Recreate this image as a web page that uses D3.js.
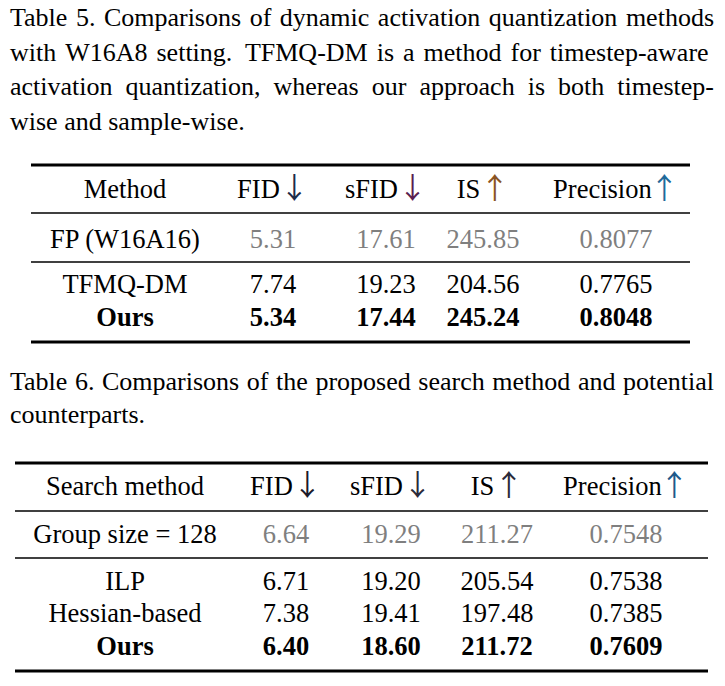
<!DOCTYPE html>
<html>
<head>
<meta charset="utf-8">
<script src="https://cdn.jsdelivr.net/npm/d3@7/dist/d3.min.js"></script>
<style>
    body { margin: 0; background: #fff; }
    svg text { font-family: 'Liberation Serif', 'Times New Roman', serif; fill: #000; }
</style>
</head>
<body>
<div id="chart"></div>
<script>
// --- captions
const caption5 = [
    'Table 5. Comparisons of dynamic activation quantization methods',
    'with W16A8 setting.  TFMQ-DM is a method for timestep-aware',
    'activation quantization, whereas our approach is both timestep-',
    'wise and sample-wise.',
];
const caption6 = [
    'Table 6. Comparisons of the proposed search method and potential',
    'counterparts.',
];

// --- table 5
const table5Headers = ['Method', 'FID', 'sFID', 'IS', 'Precision'];
const table5Arrows = ['', '↓', '↓', '↑', '↑'];
const table5Methods = ['FP (W16A16)', 'TFMQ-DM', 'Ours'];
const table5FID = [5.31, 7.74, 5.34];
const table5SFID = [17.61, 19.23, 17.44];
const table5IS = [245.85, 204.56, 245.24];
const table5Precision = [0.8077, 0.7765, 0.8048];

// --- table 6
const table6Headers = ['Search method', 'FID', 'sFID', 'IS', 'Precision'];
const table6Arrows = ['', '↓', '↓', '↑', '↑'];
const table6Methods = ['Group size = 128', 'ILP', 'Hessian-based', 'Ours'];
const table6FID = [6.64, 6.71, 7.38, 6.40];
const table6SFID = [19.29, 19.20, 19.41, 18.60];
const table6IS = [211.27, 205.54, 197.48, 211.72];
const table6Precision = [0.7548, 0.7538, 0.7385, 0.7609];

const WIDTH = 725, HEIGHT = 686;
const CAPTION_FONT = 26;
const FONT = 26.5;
const f2 = d3.format('.2f'), f4 = d3.format('.4f');
const formats = [d => d, f2, f2, f2, f4];

const svg = d3.select('#chart').append('svg')
    .attr('width', WIDTH)
    .attr('height', HEIGHT);

function drawCaption(lines, top, lineHeight) {
    const left = 10, right = 714;
    const g = svg.append('g').attr('class', 'caption');
    lines.forEach((line, i) => {
        const y = top + i * lineHeight;
        // a double space stays as a wider gap
        const words = line.split(' ');
        const nodes = words.map(w => g.append('text')
            .attr('y', y)
            .attr('font-size', CAPTION_FONT)
            .text(w));
        const widths = nodes.map(n => n.node().getComputedTextLength());
        const total = d3.sum(widths);
        const last = i === lines.length - 1;
        const gap = last ? CAPTION_FONT * 0.25 : (right - left - total) / (words.length - 1);
        let x = left;
        nodes.forEach((n, j) => {
            n.attr('x', x);
            x += widths[j] + (widths[j] === 0 ? gap * 0.4 : gap);
        });
    });
}

function drawTable(opt) {
    const g = svg.append('g').attr('class', 'table');
    const x = d3.scaleOrdinal().domain(d3.range(5)).range(opt.columns);
    const rows = opt.methods.map((m, i) => [m, opt.fid[i], opt.sfid[i], opt.is[i], opt.precision[i]]);

    // rules
    opt.rules.forEach((r, i) => {
        const thick = i === 0 || i === opt.rules.length - 1;
        g.append('line')
            .attr('x1', opt.x0).attr('x2', opt.x1)
            .attr('y1', r).attr('y2', r)
            .attr('stroke', '#000')
            .attr('stroke-width', thick ? 3 : 1.4);
    });

    // header: label + thin tall arrow (CJK arrows are slim and span the full em)
    const head = g.selectAll('.head').data(opt.headers).join('text')
        .attr('class', 'head')
        .attr('x', (_, i) => x(i))
        .attr('y', opt.headerY)
        .attr('text-anchor', 'middle')
        .attr('font-size', FONT);
    head.append('tspan').text(d => d);
    head.append('tspan')
        .attr('font-family', 'Noto Sans CJK JP')
        .attr('font-size', FONT * 1.1)
        .attr('dx', (_, i) => opt.arrowGap[i] ? 0 : -2)
        .attr('dy', 1)
        .style('fill', (_, i) => opt.arrowColors[i])
        .text((_, i) => opt.arrows[i]);

    // body rows
    rows.forEach((row, ri) => {
        const isRef = ri === 0, isOurs = ri === rows.length - 1;
        g.selectAll(null).data(row).join('text')
            .attr('x', (_, ci) => x(ci))
            .attr('y', opt.rowY[ri])
            .attr('text-anchor', 'middle')
            .attr('font-size', FONT)
            .attr('font-weight', isOurs ? 'bold' : 'normal')
            .style('fill', (_, ci) => (isRef && ci > 0) ? '#7f7f7f' : '#000')
            .text((d, ci) => formats[ci](d));
    });
}

drawCaption(caption5, 26, 34.5);
drawTable({
    headers: table5Headers,
    arrows: table5Arrows,
    arrowGap: [false, true, true, true, false],
    arrowColors: ['#000', '#1c2c48', '#5a1e50', '#8a5424', '#1f6a9a'],
    methods: table5Methods,
    fid: table5FID, sfid: table5SFID, is: table5IS, precision: table5Precision,
    columns: [125, 273, 386, 483, 616],
    x0: 31, x1: 690,
    rules: [165, 213, 262, 342],
    headerY: 198,
    rowY: [248, 293, 326],
});

drawCaption(caption6, 390, 33);
drawTable({
    headers: table6Headers,
    arrows: table6Arrows,
    arrowGap: [false, true, true, true, false],
    arrowColors: ['#000', '#1a1a2a', '#2a2a3a', '#2a2a3a', '#1f5a8a'],
    methods: table6Methods,
    fid: table6FID, sfid: table6SFID, is: table6IS, precision: table6Precision,
    columns: [125, 286, 391, 497, 626],
    x0: 15, x1: 708,
    rules: [463, 511, 558, 671],
    headerY: 495,
    rowY: [543, 590, 622, 655],
});
</script>
</body>
</html>
